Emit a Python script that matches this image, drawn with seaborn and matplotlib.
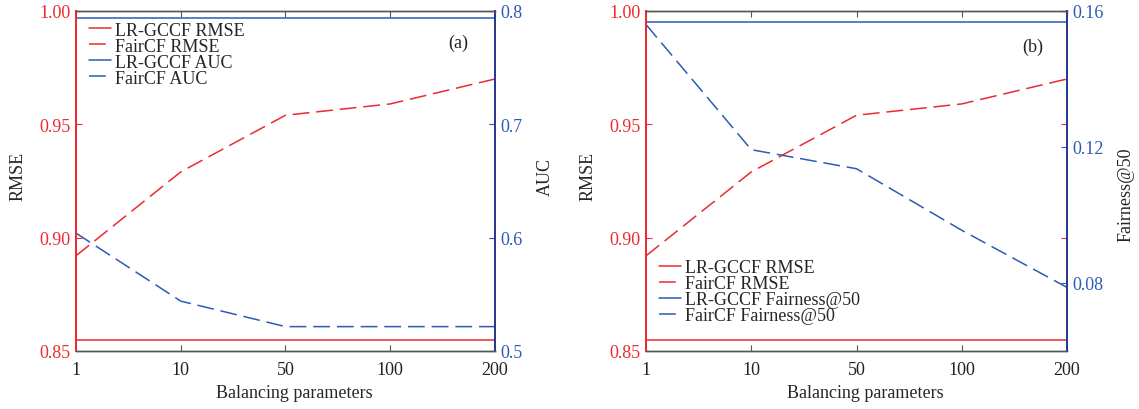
import matplotlib
matplotlib.use('Agg')
import matplotlib.pyplot as plt
import seaborn as sb
import numpy as np
import pandas as pd

sb.set_style('ticks')
plt.rcParams['font.family'] = ['Liberation Serif', 'DejaVu Serif']

# balancing parameters (categorical, evenly spaced on the axis)
params = ['1', '10', '50', '100', '200']

# RMSE (same in both panels)
lr_gccf_rmse = [0.855, 0.855, 0.855, 0.855, 0.855]
faircf_rmse = [0.892, 0.929, 0.954, 0.959, 0.970]

# panel (a): AUC
lr_gccf_auc = [0.794, 0.794, 0.794, 0.794, 0.794]
faircf_auc = [0.604, 0.544, 0.5215, 0.5215, 0.5215]

# panel (b): Fairness@50
lr_gccf_fair = [0.1567, 0.1567, 0.1567, 0.1567, 0.1567]
faircf_fair = [0.156, 0.1192, 0.1136, 0.0955, 0.0787]

RED = '#ec2a30'
BLUE = '#2c5bb5'
NAVY = '#2b3a8f'
GREY = '#555555'
FS = 13
DASH = (11, 4.5)

x = np.arange(len(params))


def draw_panel(ax, right_name, lr_right, fair_right, ylim_r, yticks_r, fmt_r,
               tag, tag_xy, leg_anchor, rlabel_x, rlabel_y):
    ax2 = ax.twinx()
    df = pd.DataFrame({'x': x, 'lr': lr_gccf_rmse, 'fair': faircf_rmse,
                       'lr2': lr_right, 'fair2': fair_right})

    sb.lineplot(data=df, x='x', y='lr', ax=ax, color=RED, lw=1.1)
    sb.lineplot(data=df, x='x', y='fair', ax=ax, color=RED, lw=1.1)
    ax.lines[-1].set_dashes(DASH)
    sb.lineplot(data=df, x='x', y='lr2', ax=ax2, color=BLUE, lw=1.1)
    sb.lineplot(data=df, x='x', y='fair2', ax=ax2, color=BLUE, lw=1.1)
    ax2.lines[-1].set_dashes(DASH)

    handles = [ax.lines[0], ax.lines[1], ax2.lines[0], ax2.lines[1]]
    labels = ['LR-GCCF RMSE', 'FairCF RMSE', 'LR-GCCF ' + right_name, 'FairCF ' + right_name]

    ax.set_xlim(0, 4)
    ax.set_xticks(x)
    ax.set_xticklabels(params)
    ax.set_ylim(0.85, 1.0)
    ax.set_yticks([0.85, 0.90, 0.95, 1.00])
    ax.set_yticklabels(['%.2f' % v for v in [0.85, 0.90, 0.95, 1.00]])
    ax2.set_ylim(*ylim_r)
    ax2.set_yticks(yticks_r)
    ax2.set_yticklabels([fmt_r % v for v in yticks_r])

    ax.set_xlabel('Balancing parameters', fontsize=FS, va='center')
    ax.xaxis.set_label_coords(0.52, -0.121)
    ax.set_ylabel('RMSE', fontsize=FS, va='center')
    ax.yaxis.set_label_coords(-0.138, 0.515)
    ax2.set_ylabel(right_name, fontsize=FS, va='center')
    ax2.yaxis.set_label_coords(rlabel_x, rlabel_y)

    ax.tick_params(axis='y', colors=RED, labelsize=FS, direction='in', length=4,
                   pad=4, right=True)
    ax.tick_params(axis='x', labelsize=FS, direction='in', length=4, pad=7,
                   top=True, colors=GREY, labelcolor='#222222')
    ax2.tick_params(axis='y', colors=BLUE, labelsize=FS, direction='in', length=4, pad=4)

    for a in (ax, ax2):
        for s in a.spines.values():
            s.set_visible(True)
            s.set_linewidth(1.0)
            s.set_color(GREY)
        a.spines['left'].set_color(RED)
        a.spines['left'].set_linewidth(1.4)
        a.spines['right'].set_color(NAVY)
        a.spines['right'].set_linewidth(1.4)

    ax2.text(tag_xy[0], tag_xy[1], tag, transform=ax2.transAxes, fontsize=FS,
             ha='center', va='center', color='#222222')
    ax2.legend(handles, labels, loc='upper left', bbox_to_anchor=leg_anchor,
               frameon=False, fontsize=FS, handlelength=1.22, handletextpad=0.2,
               labelspacing=-0.05, borderaxespad=0, borderpad=0)


fig = plt.figure(figsize=(11.39, 4.10), dpi=100)
ax_a = fig.add_axes([0.0667, 0.1415, 0.3679, 0.8293])
ax_b = fig.add_axes([0.5672, 0.1415, 0.3696, 0.8293])

draw_panel(ax_a, 'AUC', lr_gccf_auc, faircf_auc, (0.5, 0.8), [0.5, 0.6, 0.7, 0.8], '%.1f',
           '(a)', (0.912, 0.909), (0.031, 0.969), 1.119, 0.515)
draw_panel(ax_b, 'Fairness@50', lr_gccf_fair, faircf_fair, (0.06, 0.16), [0.08, 0.12, 0.16], '%.2f',
           '(b)', (0.918, 0.897), (0.031, 0.271), 1.140, 0.462)

fig.savefig('out.png', dpi=100)
